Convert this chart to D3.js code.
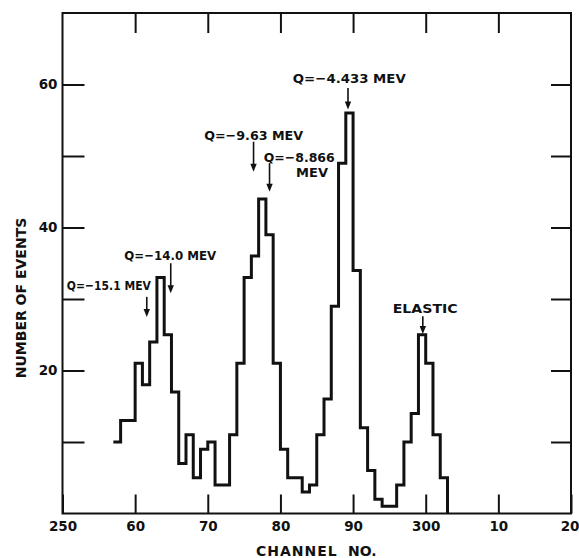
<!DOCTYPE html>
<html>
<head>
<meta charset="utf-8">
<script src="https://cdn.jsdelivr.net/npm/d3@7"></script>
<style>
  body { margin: 0; background: #fff; }
  #chartSVG text { font-family: "DejaVu Sans", sans-serif; font-weight: bold; fill: #111; }
</style>
</head>
<body>
<svg id="chartSVG" width="579" height="558"></svg>
<script>

// histogram bins, one per channel (left edge of each bin)
var channels = [257, 258, 259, 260, 261, 262, 263, 264, 265, 266, 267, 268, 269, 270,
  271, 272, 273, 274, 275, 276, 277, 278, 279, 280, 281, 282, 283, 284, 285, 286,
  287, 288, 289, 290, 291, 292, 293, 294, 295, 296, 297, 298, 299, 300, 301, 302];
var counts = [10, 13, 13, 21, 18, 24, 33, 25, 17, 7, 11, 5, 9, 10,
  4, 4, 11, 21, 33, 36, 44, 39, 21, 9, 5, 5, 3, 4, 11, 16,
  29, 49, 56, 34, 12, 6, 2, 1, 1, 4, 10, 14, 25, 21, 11, 5];
var lastEdge = 303;

var xTickValues = [250, 260, 270, 280, 290, 300, 310, 320];
var xTickLabels = ['250', '60', '70', '80', '90', '300', '10', '20'];
var yTickValues = [10, 20, 30, 40, 50, 60];
var yLabelled = [20, 40, 60];

// peak labels: text, where the text sits, where the arrow points (channel / count units)
var peakText = ['Q=\u221215.1 MEV', 'Q=\u221214.0 MEV', 'Q=\u22129.63 MEV', 'Q=\u22128.866', 'Q=\u22124.433 MEV', 'ELASTIC'];
var peakTextChannel = [250.6, 258.5, 269.5, 277.7, 281.7, 295.45];
var peakTextCount = [31.3, 35.45, 52.3, 49.2, 60.2, 28.1];
var arrowChannel = [261.6, 264.9, 276.3, 278.5, 289.3, 299.6];
var arrowTop = [30.3, 35.0, 52.0, 49.0, 59.5, 27.6];
var arrowTip = [27.5, 30.8, 47.8, 45.0, 56.5, 25.1];
// lettering widths in px, the hand lettering is narrower than the font
var peakTextWidth = [84, 92, 99, 71, 113, 65];

var svg = d3.select('#chartSVG');
var plotLeft = 62.5, plotRight = 571, plotTop = 13, plotBottom = 513.5;

var x = d3.scaleLinear().domain([250, 320]).range([plotLeft, plotRight]);
var y = d3.scaleLinear().domain([0, 70]).range([plotBottom, plotTop]);

// axes, ticks pointing inward
svg.append('g')
  .attr('transform', 'translate(0,' + plotBottom + ')')
  .call(d3.axisBottom(x).tickValues(xTickValues).tickSizeInner(-19).tickSizeOuter(0).tickPadding(8)
    .tickFormat(function(d, i) { return xTickLabels[i]; }));

svg.append('g')
  .attr('transform', 'translate(0,' + plotTop + ')')
  .call(d3.axisTop(x).tickValues(xTickValues.slice(1, -1)).tickSizeInner(-20).tickSizeOuter(0).tickFormat(''));

svg.append('g')
  .attr('transform', 'translate(' + plotLeft + ',0)')
  .call(d3.axisLeft(y).tickValues(yTickValues).tickSizeInner(-22).tickSizeOuter(0).tickPadding(5)
    .tickFormat(function(d) { return yLabelled.indexOf(d) >= 0 ? d : ''; }));

svg.append('g')
  .attr('transform', 'translate(' + plotRight + ',0)')
  .call(d3.axisRight(y).tickValues(yTickValues).tickSizeInner(-20).tickSizeOuter(0).tickFormat(''));

svg.selectAll('.domain').remove();
svg.selectAll('.tick line').attr('stroke', '#111').attr('stroke-width', 2);
svg.selectAll('.tick text').attr('font-size', 13.5).attr('fill', '#111');
// last x label sits on the frame corner, keep it inside the window
svg.selectAll('.tick text').filter(function(d) { return d === 320; }).attr('text-anchor', 'end').attr('dx', 8);

// frame
svg.append('rect')
  .attr('x', plotLeft).attr('y', plotTop)
  .attr('width', plotRight - plotLeft).attr('height', plotBottom - plotTop)
  .attr('fill', 'none').attr('stroke', '#111').attr('stroke-width', 2);

// histogram
var bins = channels.map(function(c, i) { return { c: c, n: counts[i] }; });
bins.push({ c: lastEdge, n: 0 });

var stepLine = d3.line()
  .x(function(d) { return x(d.c); })
  .y(function(d) { return y(d.n); })
  .curve(d3.curveStepAfter);

svg.append('path')
  .datum(bins)
  .attr('d', stepLine)
  .attr('fill', 'none')
  .attr('stroke', '#111')
  .attr('stroke-width', 3)
  .attr('stroke-linejoin', 'miter');

// peak labels + arrows
var peaks = svg.selectAll('.peak')
  .data(peakText)
  .enter()
  .append('g')
  .attr('class', 'peak');

peaks.append('text')
  .attr('x', function(d, i) { return x(peakTextChannel[i]); })
  .attr('y', function(d, i) { return y(peakTextCount[i]); })
  .attr('font-size', 13)
  .attr('textLength', function(d, i) { return peakTextWidth[i]; })
  .attr('lengthAdjust', 'spacingAndGlyphs')
  .text(function(d) { return d; });

peaks.append('line')
  .attr('x1', function(d, i) { return x(arrowChannel[i]); })
  .attr('x2', function(d, i) { return x(arrowChannel[i]); })
  .attr('y1', function(d, i) { return y(arrowTop[i]); })
  .attr('y2', function(d, i) { return y(arrowTip[i]) - 5; })
  .attr('stroke', '#111')
  .attr('stroke-width', 1.6);

peaks.append('path')
  .attr('d', function(d, i) {
    var ax = x(arrowChannel[i]), ay = y(arrowTip[i]);
    return 'M' + (ax - 3.2) + ',' + (ay - 8) + 'L' + (ax + 3.2) + ',' + (ay - 8) + 'L' + ax + ',' + ay + 'Z';
  })
  .attr('fill', '#111');

// second line of the -8.866 label
svg.append('text')
  .attr('x', x(284.35))
  .attr('y', y(47.0))
  .attr('text-anchor', 'middle')
  .attr('font-size', 13)
  .text('MEV');

// axis titles
svg.append('text')
  .attr('transform', 'translate(26,298) rotate(-90)')
  .attr('text-anchor', 'middle')
  .attr('font-size', 14)
  .text('NUMBER OF EVENTS');

svg.append('text')
  .attr('x', 256).attr('y', 556)
  .attr('font-size', 14)
  .attr('letter-spacing', 1)
  .text('CHANNEL');

svg.append('text')
  .attr('x', 348).attr('y', 556)
  .attr('font-size', 14)
  .text('NO.');

</script>
</body>
</html>
